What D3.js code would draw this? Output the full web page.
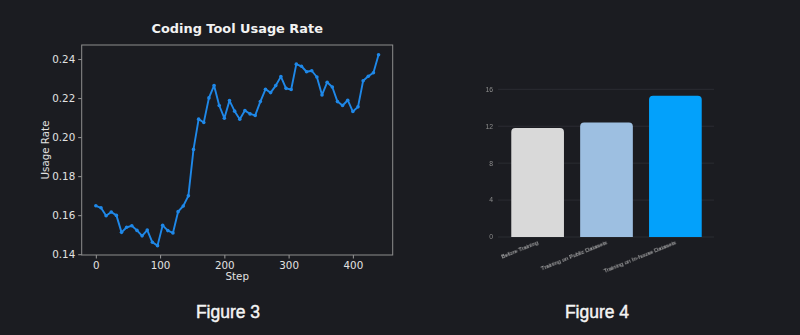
<!DOCTYPE html>
<html>
<head>
<meta charset="utf-8">
<script src="https://cdn.jsdelivr.net/npm/d3@7"></script>
<style>
  html, body { margin: 0; padding: 0; background: #1b1c21; }
  svg { display: block; }
</style>
</head>
<body>
<svg id="chart" width="800" height="335"></svg>
<script>
// Figure 3: coding tool usage rate over training steps
const steps = d3.range(0, 441, 8);
const usageRate = [
  0.1648, 0.1638, 0.1597, 0.1616, 0.1599, 0.1512, 0.1538, 0.1546,
  0.1522, 0.1494, 0.1524, 0.1461, 0.1444, 0.1548, 0.1521, 0.1509,
  0.1618, 0.1647, 0.1699, 0.1937, 0.2092, 0.2075, 0.2201, 0.2264,
  0.2162, 0.2097, 0.2187, 0.2133, 0.2092, 0.2136, 0.2119, 0.2111,
  0.2182, 0.2245, 0.2228, 0.2264, 0.2310, 0.2250, 0.2244, 0.2374,
  0.2363, 0.2335, 0.2340, 0.2308, 0.2216, 0.2281, 0.2257, 0.2182,
  0.2162, 0.2189, 0.2131, 0.2155, 0.2289, 0.2312, 0.2330, 0.2422
];
const yTicks = [0.14, 0.16, 0.18, 0.20, 0.22, 0.24];
const xTicks = [0, 100, 200, 300, 400];

// Figure 4: bar comparison
const barCategories = ["Before Training", "Training on Public Datasets", "Training on In-house Datasets"];
const barValues = [11.8, 12.4, 15.3];
const barColors = ["#d9d9d9", "#9dbfe1", "#03a1fb"];
const barTicks = [0, 4, 8, 12, 16];

const captions = ["Figure 3", "Figure 4"];

const svg = d3.select("#chart");
const bg = "#1b1c21";
svg.append("rect").attr("width", 800).attr("height", 335).attr("fill", bg);

// ---------- Line chart ----------
const L = { left: 81.7, right: 392.7, top: 45, bottom: 255 };
const x = d3.scaleLinear().domain([-22, 462]).range([L.left, L.right]);
const y = d3.scaleLinear().domain([0.1396, 0.2472]).range([L.bottom, L.top]);

const textColor = "#e2e2e2";
const font = "DejaVu Sans, sans-serif";

const gx = svg.append("g").attr("transform", `translate(0,${L.bottom})`)
  .call(d3.axisBottom(x).tickValues(xTicks).tickSize(3.5).tickPadding(3).tickFormat(d3.format("d")));
const gy = svg.append("g").attr("transform", `translate(${L.left},0)`)
  .call(d3.axisLeft(y).tickValues(yTicks).tickSize(3.5).tickPadding(3).tickFormat(d3.format(".2f")));
[gx, gy].forEach(g => {
  g.select(".domain").remove();
  g.selectAll("line").attr("stroke", "#9a9a9a");
  g.selectAll("text").attr("fill", textColor).style("font-family", font).style("font-size", "10.3px");
});

svg.append("rect")
  .attr("x", L.left).attr("y", L.top)
  .attr("width", L.right - L.left).attr("height", L.bottom - L.top)
  .attr("fill", "none").attr("stroke", "#8e8e8e").attr("stroke-width", 1);

const pts = steps.map((s, i) => [s, usageRate[i]]);
const lineColor = "#1f88e8";
svg.append("path")
  .datum(pts)
  .attr("fill", "none")
  .attr("stroke", lineColor)
  .attr("stroke-width", 1.9)
  .attr("stroke-linejoin", "round")
  .attr("d", d3.line().x(d => x(d[0])).y(d => y(d[1])));
svg.append("g").selectAll("circle").data(pts).join("circle")
  .attr("cx", d => x(d[0])).attr("cy", d => y(d[1])).attr("r", 1.8)
  .attr("fill", lineColor);

svg.append("text")
  .attr("x", (L.left + L.right) / 2).attr("y", 33)
  .attr("text-anchor", "middle")
  .attr("fill", "#f2f2f2")
  .style("font-family", font).style("font-weight", "bold").style("font-size", "12.9px")
  .text("Coding Tool Usage Rate");

svg.append("text")
  .attr("x", (L.left + L.right) / 2).attr("y", 280)
  .attr("text-anchor", "middle")
  .attr("fill", textColor)
  .style("font-family", font).style("font-size", "10.3px")
  .text("Step");

svg.append("text")
  .attr("transform", `translate(49,${(L.top + L.bottom) / 2}) rotate(-90)`)
  .attr("text-anchor", "middle")
  .attr("fill", textColor)
  .style("font-family", font).style("font-size", "10.3px")
  .text("Usage Rate");

// ---------- Bar chart ----------
const B = { left: 503, right: 710, top: 89.3, bottom: 237 };
const bx = d3.scaleBand().domain(barCategories).range([B.left, B.right])
  .paddingInner(0.235).paddingOuter(0.12);
const by = d3.scaleLinear().domain([0, 16]).range([B.bottom, B.top]);

const soft = svg.append("defs").append("filter").attr("id", "soft");
soft.append("feGaussianBlur").attr("stdDeviation", 0.35);

const bar = svg.append("g");
bar.selectAll("line.grid").data(barTicks).join("line")
  .attr("class", "grid")
  .attr("x1", 498).attr("x2", 714)
  .attr("y1", d => by(d)).attr("y2", d => by(d))
  .attr("stroke", "#2b2c32").attr("stroke-width", 1);

bar.selectAll("text.tick").data(barTicks).join("text")
  .attr("class", "tick")
  .attr("x", 493).attr("y", d => by(d)).attr("dy", "0.35em")
  .attr("text-anchor", "end")
  .attr("fill", "#8c8c8c")
  .attr("filter", "url(#soft)")
  .style("font-family", "Liberation Sans, Arial, sans-serif").style("font-size", "6.8px")
  .text(d => d);

const r = 4;
function roundedTop(x0, y0, w, h) {
  return `M${x0},${y0 + h}V${y0 + r}Q${x0},${y0} ${x0 + r},${y0}H${x0 + w - r}Q${x0 + w},${y0} ${x0 + w},${y0 + r}V${y0 + h}Z`;
}
bar.selectAll("path.bar").data(barValues).join("path")
  .attr("class", "bar")
  .attr("fill", (d, i) => barColors[i])
  .attr("d", (d, i) => {
    const x0 = bx(barCategories[i]);
    return roundedTop(x0, by(d), bx.bandwidth(), B.bottom - by(d));
  });

bar.selectAll("text.cat").data(barCategories).join("text")
  .attr("class", "cat")
  .attr("transform", d => `translate(${bx(d) + bx.bandwidth() / 2 + 1},${B.bottom + 7}) rotate(-22)`)
  .attr("text-anchor", "end")
  .attr("fill", "#c4c4c4")
  .attr("filter", "url(#soft)")
  .style("font-family", "Liberation Sans, Arial, sans-serif").style("font-size", "5.8px")
  .text(d => d);

// ---------- Captions ----------
svg.selectAll("text.caption").data(captions).join("text")
  .attr("class", "caption")
  .attr("x", (d, i) => [228, 597][i]).attr("y", 318)
  .attr("text-anchor", "middle")
  .attr("fill", "#f4f4f4")
  .attr("stroke", "#f4f4f4").attr("stroke-width", 0.45)
  .style("font-family", "Liberation Sans, Arial, sans-serif").style("font-size", "17.5px")
  .text(d => d);
</script>
</body>
</html>
